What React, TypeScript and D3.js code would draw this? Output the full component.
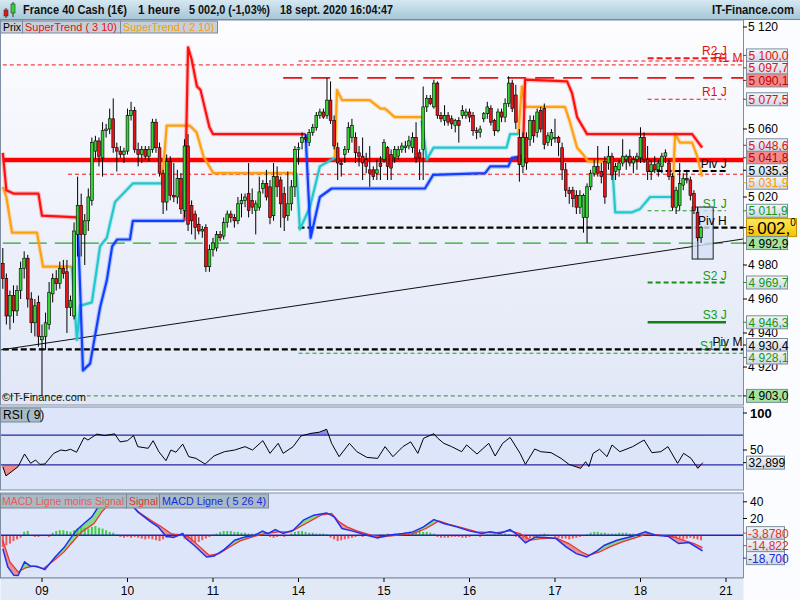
import * as d3 from 'd3';

type Candle = [number, number, number, number]; // open, high, low, close
type Pt = [number, number]; // candle index, value

// hourly candles, one array per session (8 sept starts at 13h)
const day08: Candle[] = [
  [4981, 4990, 4966, 4972], [4972, 4975, 4945, 4950], [4950, 4965, 4942, 4962], [4962, 4968, 4946, 4953],
  [4953, 4968, 4950, 4965], [4965, 4982, 4960, 4978], [4978, 4988, 4972, 4984], [4984, 4986, 4955, 4960],
  [4960, 4964, 4940, 4946], [4946, 4960, 4938, 4956], [4958, 4962, 4932, 4938],
];
const day09: Candle[] = [
  [4936, 4945, 4903, 4938], [4938, 4952, 4930, 4946], [4945, 4970, 4942, 4964], [4963, 4975, 4958, 4972],
  [4972, 4977, 4965, 4969], [4969, 4982, 4966, 4978], [4978, 4983, 4972, 4975], [4976, 4983, 4940, 4955],
  [4955, 4962, 4950, 4959], [4950, 5005, 4948, 5000], [4998, 5032, 4985, 5015], [5015, 5022, 4985, 4998],
  [4998, 5010, 4980, 5006], [5006, 5025, 5000, 5020], [5018, 5055, 5015, 5052], [5047, 5056, 5042, 5053],
  [5053, 5055, 5038, 5044], [5043, 5064, 5032, 5059], [5059, 5063, 5055, 5060], [5060, 5072, 5057, 5066],
  [5066, 5078, 5046, 5049], [5049, 5052, 5035, 5047], [5047, 5050, 5043, 5045], [5045, 5049, 5040, 5047],
];
const day10: Candle[] = [
  [5047, 5072, 5045, 5068], [5068, 5076, 5065, 5071], [5071, 5073, 5046, 5048], [5048, 5052, 5038, 5045],
  [5045, 5050, 5040, 5048], [5048, 5050, 5042, 5044], [5044, 5050, 5041, 5048], [5048, 5066, 5046, 5064],
  [5064, 5066, 5046, 5049], [5049, 5052, 5032, 5034], [5034, 5036, 5010, 5017], [5017, 5045, 5012, 5041],
  [5041, 5044, 5018, 5021], [5021, 5040, 5017, 5020], [5020, 5036, 5016, 5031], [5031, 5034, 5010, 5013],
  [5012, 5054, 5008, 5050], [5050, 5057, 5000, 5004], [5015, 5018, 4998, 5006], [5010, 5012, 4995, 5002],
  [5004, 5008, 4998, 5000], [5000, 5003, 4996, 5001], [5002, 5004, 4976, 4979], [4979, 4992, 4976, 4989],
];
const day11: Candle[] = [
  [4989, 4996, 4985, 4993], [4990, 5000, 4988, 4998], [4998, 5000, 4994, 4996], [4997, 5008, 4995, 5005],
  [5005, 5012, 5002, 5010], [5010, 5012, 5005, 5008], [5008, 5010, 5002, 5006], [5006, 5020, 5004, 5016],
  [5016, 5022, 5008, 5018], [5018, 5022, 5014, 5020], [5022, 5040, 5008, 5012], [5018, 5025, 5010, 5014],
  [5012, 5018, 4998, 5016], [5014, 5032, 5012, 5023], [5025, 5030, 5022, 5028], [5028, 5036, 5018, 5020],
  [5026, 5030, 5004, 5008], [5009, 5040, 5006, 5032], [5032, 5038, 5020, 5026], [5030, 5032, 5002, 5016],
  [5022, 5026, 5000, 5008], [5009, 5035, 5006, 5016], [5016, 5030, 5012, 5026], [5026, 5050, 5020, 5048],
];
const day14: Candle[] = [
  [5048, 5052, 5039, 5049], [5052, 5058, 5048, 5055], [5055, 5057, 5052, 5054], [5052, 5060, 5050, 5058],
  [5058, 5063, 5056, 5061], [5061, 5070, 5059, 5068], [5068, 5072, 5066, 5070], [5070, 5072, 5066, 5067],
  [5068, 5090, 5066, 5077], [5077, 5088, 5063, 5065], [5065, 5068, 5048, 5050], [5049, 5052, 5030, 5040],
  [5040, 5042, 5032, 5039], [5045, 5050, 5040, 5048], [5048, 5064, 5046, 5061], [5055, 5066, 5052, 5062],
  [5055, 5058, 5040, 5046], [5046, 5050, 5038, 5044], [5044, 5055, 5030, 5040], [5042, 5046, 5034, 5038],
  [5036, 5050, 5026, 5034], [5036, 5038, 5030, 5032], [5034, 5042, 5030, 5036], [5040, 5044, 5030, 5038],
];
const day15: Candle[] = [
  [5042, 5054, 5040, 5052], [5049, 5050, 5030, 5038], [5045, 5048, 5030, 5037], [5043, 5050, 5040, 5048],
  [5044, 5050, 5042, 5048], [5048, 5052, 5046, 5050], [5049, 5053, 5046, 5050], [5050, 5056, 5048, 5053],
  [5049, 5058, 5046, 5055], [5055, 5064, 5040, 5043], [5046, 5048, 5030, 5043], [5048, 5085, 5030, 5073],
  [5073, 5080, 5070, 5078], [5078, 5080, 5074, 5075], [5073, 5089, 5072, 5087], [5087, 5088, 5066, 5068],
  [5068, 5070, 5064, 5066], [5065, 5074, 5062, 5068], [5068, 5070, 5062, 5064], [5066, 5068, 5060, 5063],
  [5062, 5066, 5058, 5065], [5065, 5067, 5052, 5062], [5068, 5074, 5066, 5071], [5068, 5072, 5066, 5070],
];
const day16: Candle[] = [
  [5070, 5072, 5064, 5067], [5068, 5070, 5056, 5059], [5059, 5061, 5054, 5058], [5058, 5062, 5055, 5060],
  [5066, 5070, 5064, 5069], [5069, 5076, 5066, 5073], [5072, 5074, 5062, 5064], [5065, 5066, 5056, 5059],
  [5059, 5072, 5058, 5070], [5070, 5072, 5064, 5067], [5067, 5078, 5064, 5075], [5075, 5091, 5073, 5087],
  [5087, 5089, 5070, 5072], [5080, 5086, 5060, 5064], [5055, 5060, 5029, 5039], [5038, 5058, 5034, 5055],
  [5055, 5058, 5036, 5040], [5054, 5068, 5050, 5065], [5065, 5068, 5052, 5056], [5058, 5072, 5055, 5070],
  [5071, 5073, 5058, 5060], [5072, 5075, 5048, 5051], [5052, 5058, 5050, 5056], [5054, 5060, 5050, 5058],
];
const day17: Candle[] = [
  [5055, 5066, 5052, 5055], [5055, 5056, 5044, 5052], [5049, 5052, 5030, 5036], [5036, 5040, 5020, 5024],
  [5024, 5026, 5016, 5022], [5024, 5026, 5014, 5019], [5021, 5024, 5010, 5014], [5014, 5024, 5010, 5021],
  [5008, 5022, 4999, 5021], [5008, 5028, 4993, 5026], [5026, 5036, 5024, 5034], [5034, 5042, 5032, 5038],
  [5038, 5050, 5032, 5034], [5035, 5040, 5028, 5032], [5041, 5044, 5016, 5020], [5040, 5050, 5036, 5044],
  [5044, 5046, 5030, 5033], [5035, 5040, 5030, 5038], [5036, 5042, 5032, 5040], [5040, 5054, 5038, 5044],
  [5042, 5045, 5036, 5044], [5044, 5048, 5038, 5040], [5040, 5044, 5034, 5042], [5042, 5046, 5036, 5044],
];
const day18: Candle[] = [
  [5043, 5061, 5040, 5055], [5055, 5058, 5040, 5042], [5042, 5050, 5030, 5035], [5035, 5042, 5030, 5039],
  [5039, 5044, 5034, 5036], [5036, 5042, 5032, 5040], [5038, 5046, 5034, 5044], [5044, 5048, 5040, 5046],
  [5040, 5042, 5030, 5032], [5032, 5034, 5012, 5014], [5014, 5026, 5010, 5024], [5015, 5040, 5012, 5028],
  [5027, 5034, 5024, 5031], [5031, 5036, 5028, 5030], [5030, 5032, 5018, 5021], [5022, 5024, 5010, 5012],
  [5011, 5014, 4994, 4996], [4996, 5003, 4993, 5002],
];
const sessions = [day08, day09, day10, day11, day14, day15, day16, day17, day18];
const dayLabels = ['09', '10', '11', '14', '15', '16', '17', '18', '21'];

// SuperTrend ( 3 10)
const st3Red: Pt[][] = [
  [[0, 5046], [1, 5024], [3, 5022], [10, 5022], [11, 5009], [21, 5008]],
  [[51, 5006], [52, 5108], [53, 5101], [54.5, 5085], [55.5, 5083], [58, 5061], [59, 5057], [85, 5057]],
  [[146, 5044], [146.6, 5089], [158.4, 5088], [159.8, 5081], [161.2, 5067], [164, 5057], [193.5, 5057], [196.3, 5049]],
];
const st3Blue: Pt[][] = [
  [[21, 5008], [22.5, 4918], [24.5, 4922], [27.3, 4955], [29.2, 4971], [30.7, 4991], [32.1, 4995], [35.7, 4995], [36.5, 5006], [51, 5006]],
  [[85, 5057], [86.4, 4996], [89, 5020], [92.3, 5025], [118.5, 5025], [120.8, 5033], [135.4, 5034], [136.8, 5038], [141.9, 5038], [142.9, 5043], [146, 5044]],
];
// SuperTrend ( 2 10)
const st2Orange: Pt[][] = [
  [[0, 5026], [1, 5020], [2.6, 4999], [9.6, 4999], [11.3, 4979], [19.4, 4979]],
  [[44.7, 5028], [46, 5062], [52.5, 5062], [54.4, 5058], [56.3, 5044], [59.1, 5034], [82.5, 5034]],
  [[93.2, 5043], [93.8, 5083], [95.2, 5077], [103, 5077], [106, 5072], [107.3, 5072], [110, 5067], [117.6, 5067]],
  [[144.7, 5057], [145.7, 5085], [146.6, 5073], [157.8, 5073], [159.2, 5064], [161.2, 5049], [162.9, 5045], [164.3, 5041], [171, 5041]],
  [[188, 5020], [188.7, 5057], [190.1, 5052], [193.5, 5052], [194.9, 5044], [196.3, 5032]],
];
const st2Cyan: Pt[][] = [
  [[19.4, 4979], [20.8, 4936], [21.7, 4956], [25, 4958], [27.3, 4991], [29.2, 4996], [31.5, 5017], [36.5, 5028], [44.7, 5028]],
  [[82.5, 5034], [83.4, 5001], [86.2, 5014], [89, 5038], [92.3, 5042], [93.2, 5043]],
  [[117.6, 5065], [119, 5042], [120.9, 5049], [141.4, 5049], [142.4, 5057], [144.7, 5057]],
  [[171, 5041], [171.9, 5011], [176.6, 5011], [178.9, 5013], [181.7, 5020], [188, 5020]],
];

const trendLine: Pt[] = [[-0.8, 4930], [207.8, 4995.3]];
const rangeBox = { from: 193.5, split: 195.1, to: 199.4, high: 5014.1, low: 4983.5 };

// pivot levels
const levelValues = [5101.6, 5100.0, 5097.7, 5090.1, 5077.5, 5041.8, 5035.3, 5033.4, 5011.9, 5002.0, 4992.9, 4969.7, 4946.3, 4930.4, 4928.1, 4903.0];
const levelNames = ['R2 J', '', 'R1 M', '', 'R1 J', '', 'Piv J', '', 'S1 J', 'Piv H', '', 'S2 J', 'S3 J', 'Piv M', 'S1 H', ''];
const levelFrom = [181, 83, 0, 78.7, 181, 0, 181, 18.3, 181, 83, 0, 181, 181, 0, 83, 0];
const levelKinds = ['rBold', 'rThin', 'rThin', 'rLong', 'rThin', 'rSolid', 'kBold', 'rThin', 'gThin', 'kBold', 'gLong', 'gBold', 'gSolid', 'kBold', 'gThin', 'gThin'];

// tags of the right scale
const tagValues = [5100.0, 5097.7, 5090.1, 5077.5, 5048.6, 5041.8, 5035.3, 5031.9, 5011.9, 5002.0, 4992.9, 4969.7, 4946.3, 4930.4, 4928.1, 4903.0];
const tagKinds = ['red', 'red', 'redFill', 'red', 'red', 'redFill', 'black', 'orange', 'green', 'last', 'greenFill', 'green', 'green', 'black', 'green', 'greenFill'];

// RSI ( 9)
const rsiPts: Pt[] = [
  [0, 27.5], [0.9, 15], [4.3, 27.5], [6.1, 44.6], [7.8, 32], [9.2, 36.5], [10.4, 30.6], [11.8, 31], [14.3, 45.5],
  [16.3, 50], [17.7, 49], [19, 51], [20.7, 47], [22.8, 66.7], [23.9, 63.5], [26.4, 71.5], [28.6, 69.5], [31.4, 71.8],
  [32.9, 61], [35, 62.6], [36.7, 69.5], [37.9, 54.5], [40.8, 52.3], [42.2, 62.6], [43.8, 47.7], [45.8, 35.6], [47.2, 50],
  [48.6, 47], [50.5, 58], [52.2, 41], [54.2, 38.7], [56.8, 31], [59.3, 42], [62.2, 47.7], [65.1, 50], [68, 54.5],
  [70.1, 50], [73, 62.6], [75, 45.5], [77.3, 59], [78.7, 45.5], [81.5, 54.5], [83.7, 69], [86.5, 72.5], [88.8, 74],
  [90.9, 78], [92.3, 59], [94.4, 41], [97.3, 59], [99.4, 47.7], [102.2, 40], [105.2, 38.7], [107.3, 54.5], [109.5, 41],
  [112.3, 54.5], [114.5, 61], [116.5, 45.5], [118.1, 65.8], [121, 72], [122.1, 65.8], [123.8, 59], [126, 54.5],
  [128.8, 47.7], [130.2, 56.8], [133.1, 44.6], [136.4, 59], [138.2, 41.9], [140.3, 59], [142.4, 67], [145.2, 45.5],
  [146.7, 30.6], [149.3, 51.4], [151, 47.7], [153.9, 46.4], [156.7, 38.7], [158.9, 30.6], [162.2, 25.2], [163.6, 34.2],
  [164.5, 27.5], [165.7, 45.5], [167.5, 51], [169.6, 41], [171, 56.8], [173.2, 47.7], [176.8, 54.5], [180, 63.5],
  [182.2, 46.4], [184.7, 47.7], [186.7, 54.5], [189.4, 32], [191.1, 45.5], [193.2, 38.7], [195.1, 25.2], [196.5, 32.9],
];
const rsiLast = 32.899;

// MACD ( 5 26 4)
const macdPts: Pt[] = [
  [0, -16], [1.4, -38], [3.1, -48], [4.3, -48.3], [6.1, -32], [7.8, -37], [9.5, -37], [11.8, -41], [14.7, -26],
  [17.2, -14.8], [19.3, -2], [20.7, 6], [22.8, 14], [25, 22], [27.1, 36], [28.6, 42], [30, 46], [32.9, 44], [35.7, 38],
  [37.9, 28], [41.5, 16], [43.6, 10], [45.8, -1.2], [47.9, -2.8], [50.5, 2], [51.4, -4], [53.7, -12], [57.2, -26],
  [59.3, -25], [62.2, -17], [65.1, -6], [68, -2], [70.8, 0], [72.9, 5], [74.4, 2], [76.5, 6.8], [78.7, 2], [81.5, 6],
  [84.4, 18], [87.3, 24], [90.9, 26.7], [93, 22], [95.2, 8], [98, 5.2], [102.2, 0], [105.2, -3.2], [108.1, 0],
  [112.3, 2], [115.1, 4], [118.1, 10], [121, 18.8], [123.8, 14], [127.4, 10], [130.9, 5.2], [134.5, 2], [136.8, 4],
  [139.6, 2], [142.4, 6.8], [144.6, 0], [146.7, -9], [149.6, -2], [152.5, -2.8], [155.3, -4], [158.1, -14], [161, -22],
  [163.9, -26], [166.8, -18.8], [168.9, -12], [172.4, -6], [176.8, -1.2], [180.4, 4], [183.2, 0], [186.7, -1.2],
  [189.7, -10], [192.6, -8.8], [196.4, -18.7],
];
const signalPts: Pt[] = [
  [0, -6], [2, -32], [4.3, -44], [6.4, -39], [8.5, -37], [11.3, -40], [14.3, -30.6], [17.2, -20], [20, -6], [22.1, 4],
  [25.6, 14], [27.8, 28], [30.1, 38], [32.1, 42], [35.7, 37], [38.5, 26.7], [42.2, 16], [44.3, 10.8], [47.2, 2], [50, 0],
  [52.2, -2], [55.1, -13], [57.9, -24], [60.7, -22], [63.7, -14], [66.6, -6.8], [70.1, -2], [73.6, 2], [77.3, 4],
  [80.8, 4], [85.1, 14], [89.3, 24], [92.3, 26], [94.4, 16], [96.6, 10], [99.4, 5.2], [103.6, 0], [106.6, -2],
  [110.9, 0], [115.1, 2], [118.8, 8], [122.4, 17], [125.3, 13], [128.8, 9], [133.1, 4], [138.2, 2.8], [142.4, 5.2],
  [145.2, 2], [148.2, -6], [151, -4], [155.3, -3.2], [158.9, -10], [162.5, -20], [164.5, -24], [167.5, -20],
  [170.4, -14], [173.9, -8], [178.3, -2], [181.1, 2], [184.7, 0], [188.3, -2], [191.1, -6], [194, -10], [196.4, -14.8],
];
const histo: number[] = [
  -14, -12, -10, -7, -5, -3, 4, 5, -1, -2, -2,
  -1, -1, -2, 3, 5, 6, 6, 5, 4, 6, 8, 10, 9, 8, 10, 11, 9, 8, 6, 4, 3, 1, -2, -3,
  -2, -3, -2, -3, -4, -5, -4, -5, -6, -7, -5, -3, -1, 1, 2, -1, -4, -6, -8, -9, -8, -6, -4, -2,
  1, 2, 4, 5, 5, 5, 4, 4, 3, 3, 2, 2, 2, 1, 1, -1, -2, -3, -2, -1, -2, -1, 2, 4,
  5, 5, 4, 3, 3, 2, 2, 2, 1, -3, -5, -7, -6, -5, -4, -3, -2, -1, -2, -1, -1, -2, -1, 1,
  1, 2, 1, 2, 1, 2, 3, 3, 4, 4, 5, 4, 4, 3, 2, -2, -3, -3, -3, -2, -2, -2, -3, -3,
  -2, -1, -1, -2, -1, 1, 1, 2, 1, 1, 2, 1, -1, -2, -3, -4, -5, -4, -3, -2, 1, 2, 1, -1,
  -2, -3, -4, -4, -5, -4, -3, -2, -1, 1, 3, 4, 4, 3, 3, 2, 2, 2, 3, 3, 3, 2, 2, 1,
  1, 2, 1, -1, -1, 1, -1, -2, -2, -3, -3, -4, -5, -4, -3, -4, -5, -6,
];
const macdTags = [-3.878, -14.822, -18.7];

const FONT = 'Liberation Sans, Arial, sans-serif';
const W = 800;
const H = 600;
const plotR = 743;
const mainTop = 20, mainBot = 405;
const rsiTop = 407, rsiBot = 490;
const macdTop = 493, macdBot = 578;

const loc = d3.formatLocale({ decimal: ',', thousands: ' ', grouping: [3], currency: ['', ''], minus: '-' });
const fmtTick = loc.format(',.0f');
const fmtTag = loc.format(',.1f');

const levelStyle: Record<string, { color: string; width: number; dash?: string }> = {
  rThin: { color: '#f01818', width: 1, dash: '4,3' },
  rBold: { color: '#f01818', width: 2, dash: '6,3' },
  rLong: { color: '#f01010', width: 1.6, dash: '19,9' },
  rSolid: { color: '#ff0000', width: 4.5 },
  kBold: { color: '#000000', width: 2.2, dash: '6,3' },
  gThin: { color: '#1f9a1f', width: 1, dash: '4,3' },
  gBold: { color: '#1a8c1a', width: 2.2, dash: '5,3' },
  gLong: { color: '#2ea52e', width: 1.2, dash: '18,8' },
  gSolid: { color: '#138213', width: 2.6 },
};

const tagStyle: Record<string, { text: string; fill: string }> = {
  red: { text: '#e01010', fill: 'url(#tagGrad)' },
  redFill: { text: '#c00000', fill: '#f28c8c' },
  black: { text: '#000000', fill: 'url(#tagGrad)' },
  orange: { text: '#ff9900', fill: 'url(#tagGrad)' },
  green: { text: '#139a13', fill: 'url(#tagGrad)' },
  greenFill: { text: '#000000', fill: '#a3e2a3' },
  last: { text: '#000000', fill: 'url(#lastGrad)' },
};

// keep tags from overlapping: groups are spread around the mean of their ideal positions
function spread(ideal: number[], gap: number): number[] {
  const order = ideal.map((_, i) => i).sort((a, b) => ideal[a] - ideal[b]);
  const groups = order.map(i => [i]);
  const place = (g: number[]) => {
    const top = d3.mean(g, (id, k) => ideal[id] - k * gap) as number;
    return g.map((_, k) => top + k * gap);
  };
  let changed = true;
  while (changed) {
    changed = false;
    for (let k = 0; k < groups.length - 1; k++) {
      const a = place(groups[k]);
      const b = place(groups[k + 1]);
      if (b[0] - a[a.length - 1] < gap) {
        groups.splice(k, 2, groups[k].concat(groups[k + 1]));
        changed = true;
        break;
      }
    }
  }
  const out: number[] = new Array(ideal.length);
  groups.forEach(g => place(g).forEach((p, k) => (out[g[k]] = p)));
  return out;
}

export default function App() {
  const candles = sessions.flat();
  const starts: number[] = [];
  let acc = 0;
  sessions.forEach(s => { starts.push(acc); acc += s.length; });
  const dayTicks = [...starts.slice(1), starts[starts.length - 1] + day09.length];

  const x = d3.scaleLinear().domain([0, 203]).range([2.8, 726]);
  const y = d3.scaleLinear().domain([4900, 5120]).range([401, 27]);
  const yR = d3.scaleLinear().domain([0, 100]).range([487, 413]);
  const yM = d3.scaleLinear().domain([-50, 40]).range([577, 501.8]);

  const lineP = d3.line<Pt>().x(d => x(d[0])).y(d => y(d[1]));
  const lineR = d3.line<Pt>().x(d => x(d[0])).y(d => yR(d[1]));
  const areaR30 = d3.area<Pt>().x(d => x(d[0])).y0(yR(30)).y1(d => yR(d[1]));
  const areaR70 = d3.area<Pt>().x(d => x(d[0])).y0(yR(70)).y1(d => yR(d[1]));
  const lineM = d3.line<Pt>().x(d => x(d[0])).y(d => yM(d[1]));
  const toTop = d3.area<Pt>().x(d => x(d[0])).y0(macdTop).y1(d => yM(d[1]));
  const toBot = d3.area<Pt>().x(d => x(d[0])).y0(macdBot).y1(d => yM(d[1]));

  const tagY = spread(tagValues.map(v => y(v)), 12.5);
  const macdTagY = spread(macdTags.map(v => yM(v)), 12.5);
  // tick labels hidden behind a tag are not drawn
  const priceTicks = y.ticks(11).filter(v => v % 20 === 0 && tagY.every(t => Math.abs(t - y(v)) > 8));

  const stroke = (segs: Pt[][], color: string, key: string) =>
    segs.map((s, i) => (
      <g key={key + i}>
        <path d={lineP(s) ?? ''} fill="none" stroke={color} strokeWidth={4.5} strokeOpacity={0.25} strokeLinejoin="round" />
        <path d={lineP(s) ?? ''} fill="none" stroke={color} strokeWidth={2.2} strokeLinejoin="round" />
      </g>
    ));

  const levelTextColor = (n: string) => (n.startsWith('R') ? '#e01010' : n.startsWith('S') ? '#139a13' : '#000');
  const lastParts = fmtTag(tagValues[tagKinds.indexOf('last')]);

  return (
    <div style={{ position: 'absolute', left: 0, top: 0, width: W, height: H }}>
      <svg width={W} height={H} fontFamily={FONT} style={{ display: 'block' }}>
        <defs>
          <linearGradient id="headGrad" x1="0" y1="0" x2="0" y2="1">
            <stop offset="0" stopColor="#d6e8f1" />
            <stop offset="1" stopColor="#a6c7d8" />
          </linearGradient>
          <linearGradient id="mainGrad" x1="0" y1="0" x2="0" y2="1">
            <stop offset="0" stopColor="#fdfdff" />
            <stop offset="1" stopColor="#e1e7f7" />
          </linearGradient>
          <linearGradient id="tagGrad" x1="0" y1="0" x2="0" y2="1">
            <stop offset="0" stopColor="#f4f7fb" />
            <stop offset="1" stopColor="#cdd7e3" />
          </linearGradient>
          <linearGradient id="lastGrad" x1="0" y1="0" x2="0" y2="1">
            <stop offset="0" stopColor="#ffe860" />
            <stop offset="1" stopColor="#f2c200" />
          </linearGradient>
          <clipPath id="clipMain"><rect x={0} y={mainTop} width={plotR} height={mainBot - mainTop} /></clipPath>
          <clipPath id="clipRsi"><rect x={0} y={rsiTop} width={plotR} height={rsiBot - rsiTop} /></clipPath>
          <clipPath id="below30"><rect x={0} y={yR(30)} width={plotR} height={rsiBot - yR(30)} /></clipPath>
          <clipPath id="above70"><rect x={0} y={rsiTop} width={plotR} height={yR(70) - rsiTop} /></clipPath>
          <clipPath id="sigTop"><path d={toTop(signalPts) ?? ''} /></clipPath>
          <clipPath id="macdTopC"><path d={toTop(macdPts) ?? ''} /></clipPath>
        </defs>

        <rect x={0} y={0} width={W} height={H} fill="#fbfcff" />

        {/* header */}
        <rect x={0} y={0} width={W} height={19} fill="url(#headGrad)" />
        <line x1={0} x2={W} y1={19.5} y2={19.5} stroke="#6f8796" />
        <line x1={6} x2={6} y1={8} y2={18} stroke="#333" />
        <rect x={4} y={10} width={4} height={6} fill="#e8141c" stroke="#333" strokeWidth={0.6} />
        <line x1={13} x2={13} y1={2} y2={17} stroke="#333" />
        <rect x={11} y={4} width={4} height={9} fill="#36d336" stroke="#333" strokeWidth={0.6} />
        <g fontSize={13} fontWeight="bold" fill="#111">
          <text x={23} y={14} textLength={104} lengthAdjust="spacingAndGlyphs">France 40 Cash (1€)</text>
          <text x={138} y={14} textLength={42} lengthAdjust="spacingAndGlyphs">1 heure</text>
          <text x={189} y={14} textLength={81} lengthAdjust="spacingAndGlyphs">5 002,0 (-1,03%)</text>
          <text x={280} y={14} textLength={113} lengthAdjust="spacingAndGlyphs">18 sept. 2020 16:04:47</text>
          <text x={712} y={14} textLength={82} lengthAdjust="spacingAndGlyphs">IT-Finance.com</text>
        </g>

        {/* main price panel */}
        <rect x={0.5} y={mainTop} width={plotR} height={mainBot - mainTop} fill="url(#mainGrad)" />
        <g clipPath="url(#clipMain)">
          {levelValues.map((v, i) => {
            const st = levelStyle[levelKinds[i]];
            const to = levelNames[i].endsWith(' J') ? 203 : 209;
            return (
              <line key={'lv' + i} x1={x(levelFrom[i])} x2={x(to)} y1={y(v)} y2={y(v)}
                stroke={st.color} strokeWidth={st.width} strokeDasharray={st.dash} />
            );
          })}
          <path d={lineP(trendLine) ?? ''} stroke="#111" strokeWidth={1} fill="none" />
          {stroke(st2Orange, '#ffa010', 'o')}
          {stroke(st2Cyan, '#22c8cc', 'c')}
          {stroke(st3Red, '#ff1010', 'r')}
          {stroke(st3Blue, '#1040ff', 'b')}
          <rect x={x(rangeBox.from)} y={y(rangeBox.high)} width={x(rangeBox.to) - x(rangeBox.from)}
            height={y(rangeBox.low) - y(rangeBox.high)} fill="#d4e0f8" fillOpacity={0.8} stroke="#222" strokeWidth={1} />
          <line x1={x(rangeBox.split)} x2={x(rangeBox.split)} y1={y(rangeBox.high)} y2={y(rangeBox.low)} stroke="#222" />
          {candles.map((c, i) => {
            const [o, h, l, cl] = c;
            const up = cl >= o;
            const top = y(Math.max(o, cl));
            const bh = Math.max(1, y(Math.min(o, cl)) - top);
            return (
              <g key={'c' + i}>
                <line x1={x(i)} x2={x(i)} y1={y(h)} y2={y(l)} stroke="#000" strokeWidth={1} />
                <rect x={x(i) - 1.4} y={top} width={2.8} height={bh} fill={up ? '#35d435' : '#ea1418'} stroke="#000" strokeWidth={0.6} />
              </g>
            );
          })}
        </g>
        {levelNames.map((n, i) => n && (
          <text key={'ln' + i} x={n.endsWith('M') ? x(207.6) : x(203.2)} y={y(levelValues[i]) - 3}
            textAnchor="end" fontSize={12} fill={levelTextColor(n)}>{n}</text>
        ))}

        {/* legend */}
        <g fontSize={11.5}>
          <rect x={0.5} y={21} width={22} height={12} fill="#c5d0da" stroke="#7b8a98" />
          <text x={3} y={31} fill="#000" textLength={18} lengthAdjust="spacingAndGlyphs">Prix</text>
          <rect x={22.5} y={21} width={98} height={12} fill="#c5d0da" stroke="#7b8a98" />
          <text x={25} y={31} fill="#e81010" textLength={92} lengthAdjust="spacingAndGlyphs">SuperTrend ( 3 10)</text>
          <rect x={120.5} y={21} width={97} height={12} fill="#c5d0da" stroke="#7b8a98" />
          <text x={123} y={31} fill="#ff9900" textLength={91} lengthAdjust="spacingAndGlyphs">SuperTrend ( 2 10)</text>
        </g>
        <text x={2} y={401} fontSize={11} fill="#111">©IT-Finance.com</text>
        <rect x={0.5} y={mainTop} width={plotR} height={mainBot - mainTop} fill="none" stroke="#7d8ea3" />

        {/* price scale */}
        <g fontSize={12}>
          {priceTicks.map(v => (
            <g key={'pt' + v}>
              <line x1={plotR} x2={plotR + 4} y1={y(v)} y2={y(v)} stroke="#000" />
              <text x={plotR + 5} y={y(v) + 4} fill="#000">{fmtTick(v)}</text>
            </g>
          ))}
          {tagValues.map((v, i) => {
            const k = tagKinds[i];
            const st = tagStyle[k];
            const cy = tagY[i];
            if (k === 'last') {
              return (
                <g key={'tg' + i}>
                  <line x1={plotR} x2={plotR + 4} y1={y(v)} y2={y(v)} stroke="#000" />
                  <rect x={746.5} y={cy - 9} width={50} height={18} fill={st.fill} stroke="#b89400" />
                  <text x={748} y={cy + 6} fill="#000">
                    <tspan fontSize={11}>{lastParts.slice(0, 2)}</tspan>
                    <tspan fontSize={17}>{lastParts.slice(2, -1)}</tspan>
                    <tspan fontSize={10} dy={-8}>{lastParts.slice(-1)}</tspan>
                  </text>
                </g>
              );
            }
            return (
              <g key={'tg' + i}>
                <line x1={plotR} x2={plotR + 4} y1={cy} y2={cy} stroke={st.text} />
                <rect x={746.5} y={cy - 6.5} width={41} height={13} fill={st.fill} stroke="#7e8c9a" />
                <text x={748.5} y={cy + 4.5} fill={st.text}>{fmtTag(v)}</text>
              </g>
            );
          })}
        </g>

        {/* RSI panel */}
        <rect x={0.5} y={rsiTop} width={plotR} height={rsiBot - rsiTop} fill="#dce5f9" />
        <g clipPath="url(#clipRsi)">
          <path d={areaR30(rsiPts) ?? ''} fill="#f08a8a" clipPath="url(#below30)" />
          <path d={areaR70(rsiPts) ?? ''} fill="#8f8ff0" clipPath="url(#above70)" />
          {[70, 30].map(v => (
            <line key={'rl' + v} x1={0} x2={plotR} y1={yR(v)} y2={yR(v)} stroke="#2a2aa8" strokeWidth={1.3} />
          ))}
          <path d={lineR(rsiPts) ?? ''} fill="none" stroke="#000" strokeWidth={1} />
        </g>
        <rect x={0.5} y={rsiTop} width={plotR} height={rsiBot - rsiTop} fill="none" stroke="#7d8ea3" />
        <rect x={0.5} y={408} width={40} height={14} fill="#a7bac6" stroke="#7b8a98" />
        <text x={3} y={419} fontSize={12} fill="#000">RSI ( 9)</text>
        <g fontSize={12}>
          <line x1={plotR} x2={plotR + 4} y1={yR(100)} y2={yR(100)} stroke="#000" />
          <text x={plotR + 7} y={yR(100) + 5} fontWeight="bold" fontSize={13}>100</text>
          <line x1={plotR} x2={plotR + 4} y1={yR(50)} y2={yR(50)} stroke="#000" />
          <text x={plotR + 7} y={yR(50) + 4}>50</text>
          <line x1={plotR} x2={plotR + 4} y1={yR(rsiLast)} y2={yR(rsiLast)} stroke="#000" />
          <rect x={746.5} y={yR(rsiLast) - 6.5} width={38} height={13} fill="url(#tagGrad)" stroke="#7e8c9a" />
          <text x={748.5} y={yR(rsiLast) + 4.5}>{loc.format('.3f')(rsiLast)}</text>
        </g>

        {/* MACD panel */}
        <rect x={0.5} y={macdTop} width={plotR} height={macdBot - macdTop} fill="#dce5f9" />
        <g>
          <path d={toBot(macdPts) ?? ''} fill="#86da86" clipPath="url(#sigTop)" />
          <path d={toBot(signalPts) ?? ''} fill="#e39393" clipPath="url(#macdTopC)" />
          {histo.map((v, i) => (
            <rect key={'h' + i} x={x(i) - 1} width={2} y={v >= 0 ? yM(v) : yM(0)} height={Math.abs(yM(v) - yM(0))}
              fill={v >= 0 ? '#3fd03f' : '#ec5a5a'} />
          ))}
          <line x1={0} x2={plotR} y1={yM(0)} y2={yM(0)} stroke="#2424b0" strokeWidth={1.5} />
          <path d={lineM(signalPts) ?? ''} fill="none" stroke="#ec3030" strokeWidth={1.2} />
          <path d={lineM(macdPts) ?? ''} fill="none" stroke="#2030f0" strokeWidth={1.5} />
        </g>
        <rect x={0.5} y={macdTop} width={plotR} height={macdBot - macdTop} fill="none" stroke="#7d8ea3" />
        <g fontSize={11}>
          <rect x={0.5} y={494} width={126} height={14} fill="#a7bac6" stroke="#7b8a98" />
          <text x={2} y={505} fill="#e85a5a" textLength={122} lengthAdjust="spacingAndGlyphs">MACD Ligne moins Signal</text>
          <rect x={126.5} y={494} width={33} height={14} fill="#a7bac6" stroke="#7b8a98" />
          <text x={129} y={505} fill="#e83030" textLength={29} lengthAdjust="spacingAndGlyphs">Signal</text>
          <rect x={159.5} y={494} width={109} height={14} fill="#a7bac6" stroke="#7b8a98" />
          <text x={162} y={505} fill="#1a2ae0" textLength={104} lengthAdjust="spacingAndGlyphs">MACD Ligne ( 5 26 4)</text>
        </g>
        <g fontSize={12}>
          {[40, 20].map(v => (
            <g key={'mt' + v}>
              <line x1={plotR} x2={plotR + 4} y1={yM(v)} y2={yM(v)} stroke="#000" />
              <text x={plotR + 7} y={yM(v) + 4}>{v}</text>
            </g>
          ))}
          {macdTags.map((v, i) => (
            <g key={'mtg' + i}>
              <line x1={plotR} x2={plotR + 4} y1={macdTagY[i]} y2={macdTagY[i]} stroke={i === 2 ? '#1a2ae0' : '#e03030'} />
              <rect x={746.5} y={macdTagY[i] - 6.5} width={38} height={13} fill="url(#tagGrad)" stroke="#7e8c9a" />
              <text x={748} y={macdTagY[i] + 4.5} fill={i === 2 ? '#1a2ae0' : '#e03030'}>
                {loc.format(i === 0 ? '.4f' : '.3f')(v)}
              </text>
            </g>
          ))}
        </g>

        {/* time axis */}
        <rect x={0.5} y={macdBot} width={plotR} height={H - macdBot} fill="#e2e9f6" />
        <line x1={0} x2={plotR} y1={macdBot} y2={macdBot} stroke="#7d8ea3" />
        <g fontSize={12} textAnchor="middle">
          {dayTicks.map((t, i) => (
            <g key={'dt' + i}>
              <line x1={x(t)} x2={x(t)} y1={macdBot} y2={macdBot + 4} stroke="#000" />
              <text x={x(t)} y={595}>{dayLabels[i]}</text>
            </g>
          ))}
        </g>
      </svg>
    </div>
  );
}
